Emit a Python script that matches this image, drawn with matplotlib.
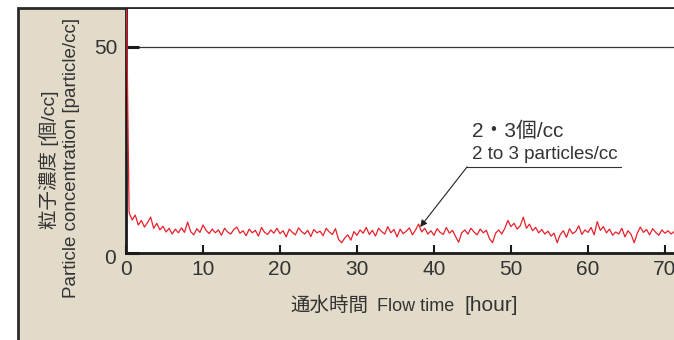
import numpy as np
import matplotlib
matplotlib.use("Agg")
import matplotlib.pyplot as plt
import matplotlib.transforms as mtransforms
from matplotlib.patches import Rectangle

plt.rcParams['font.family'] = ['Liberation Sans', 'Noto Sans CJK JP', 'DejaVu Sans']

# ---- data ----
time_step_hours = 0.4
particle_conc = [
    70, 9.8, 8.0, 9.2, 6.8, 7.9, 6.3, 7.4, 8.7, 6.0,
    7.2, 5.6, 6.5, 5.1, 6.0, 4.6, 5.8, 4.9, 6.1, 5.0,
    7.5, 5.2, 4.4, 5.9, 5.0, 6.8, 5.5, 4.7, 5.8, 4.9,
    5.6, 4.3, 6.0, 5.1, 4.6, 5.7, 6.3, 4.8, 5.4, 4.2,
    5.8, 4.9, 5.5, 4.1, 6.2, 5.0, 4.5, 5.6, 4.8, 6.0,
    4.7, 5.4, 3.9, 5.8, 5.0, 4.4, 6.1, 5.2, 4.6, 5.5,
    4.0, 5.7, 4.9, 5.3, 4.2, 6.0, 5.1, 4.5, 5.9, 3.3,
    2.5, 3.6, 4.4, 3.1, 5.2, 4.3, 5.6, 4.8, 6.2, 4.5,
    5.5, 4.1, 6.0, 5.2, 4.6, 6.4, 4.9, 5.7, 3.9, 5.8,
    4.7, 5.3, 6.1, 4.4, 5.6, 7.0, 5.1, 6.0, 4.6, 5.4,
    4.3, 5.9, 5.0, 4.5, 6.2, 4.8, 5.5, 4.0, 2.6, 4.9,
    5.6, 4.6, 6.0, 5.1, 4.4, 5.8, 4.9, 5.5, 3.5, 2.5,
    4.8, 5.6, 4.6, 6.0, 7.9, 6.4, 7.2, 5.8, 6.6, 8.7,
    6.0, 7.0, 5.4, 6.2, 4.9, 5.7, 4.6, 5.3, 4.1, 4.8,
    2.5, 4.5, 5.4, 3.8, 5.9, 4.7, 5.2, 6.6, 4.5, 5.6,
    5.0, 6.2, 4.4, 7.6, 5.5, 6.4, 4.9, 5.8, 4.3, 5.1,
    4.6, 6.0, 3.9, 5.4, 4.5, 2.5, 4.8, 6.3, 5.0, 5.7,
    4.4, 5.9, 5.0, 4.3, 5.6, 4.8, 5.4, 4.6, 5.2,
]
x_ticks = [0, 10, 20, 30, 40, 50, 60, 70]
y_ticks = [0, 50]
x_max = 71.17
y_max = 59.2

hours = np.arange(len(particle_conc)) * time_step_hours

# ---- figure ----
W, H = 674, 340
fig = plt.figure(figsize=(W / 100, H / 100), dpi=100)
fig.patch.set_facecolor('white')

panel = Rectangle((18 / W, -0.2), 1.2, (H - 8) / H + 0.2, transform=fig.transFigure,
                  facecolor='#E2DBC9', edgecolor='#2a2a2a', lw=2, clip_on=False, zorder=0)
fig.add_artist(panel)

ax = fig.add_axes([126 / W, (H - 253) / H, (W - 126) / W, 244 / H])
ax.set_facecolor('white')
ax.set_xlim(0, x_max)
ax.set_ylim(0, y_max)

ax.axhline(50, color='#333333', lw=0.9, zorder=1)
ax.plot(hours, particle_conc, color='#E8202A', lw=0.9, zorder=3)

for s in ['top', 'right']:
    ax.spines[s].set_visible(False)
for s in ['left', 'bottom']:
    ax.spines[s].set_color('#1a1a1a')
    ax.spines[s].set_linewidth(2)

ax.set_xticks(x_ticks)
ax.set_yticks(y_ticks)
ax.tick_params(axis='x', direction='in', length=6, width=1.5, color='#1a1a1a',
               labelsize=15, labelcolor='#333333', pad=5)
ax.tick_params(axis='y', direction='in', length=9, width=2.2, color='#1a1a1a',
               labelsize=15, labelcolor='#333333', pad=6)
shift = mtransforms.ScaledTranslation(-2 / 100, -3 / 100, fig.dpi_scale_trans)
for lbl in ax.get_yticklabels():
    if lbl.get_text() == '0':
        lbl.set_transform(lbl.get_transform() + shift)

# annotation
ax.annotate('', xy=(38.2, 6.3), xytext=(44.3, 20.9),
            arrowprops=dict(arrowstyle='-|>', color='#222222', lw=0.8,
                            mutation_scale=10, shrinkA=0, shrinkB=0))
ax.plot([44.3, 64.3], [20.9, 20.9], color='#333333', lw=0.8)
ax.text(44.9, 29.6, '2・3個/cc', ha='left', va='center', fontsize=15, color='#333333')
ax.text(44.9, 24.0, '2 to 3 particles/cc', ha='left', va='center', fontsize=13.5,
        color='#333333')

# axis labels
base = (H - 311) / H
fig.text(290 / W, base, '通水時間', ha='left', va='baseline', fontsize=14, color='#333333')
fig.text(377 / W, base, 'Flow time', ha='left', va='baseline', fontsize=13, color='#333333')
fig.text(464 / W, base, '[hour]', ha='left', va='baseline', fontsize=15, color='#333333')

fig.text(49 / W, (H - 160) / H, '粒子濃度 [個/cc]', rotation=90, ha='center', va='center',
         fontsize=14, color='#333333')
fig.text(72 / W, (H - 158) / H, 'Particle concentration [particle/cc]', rotation=90,
         ha='center', va='center', fontsize=13.5, color='#333333')

fig.savefig('out.png', dpi=100)
